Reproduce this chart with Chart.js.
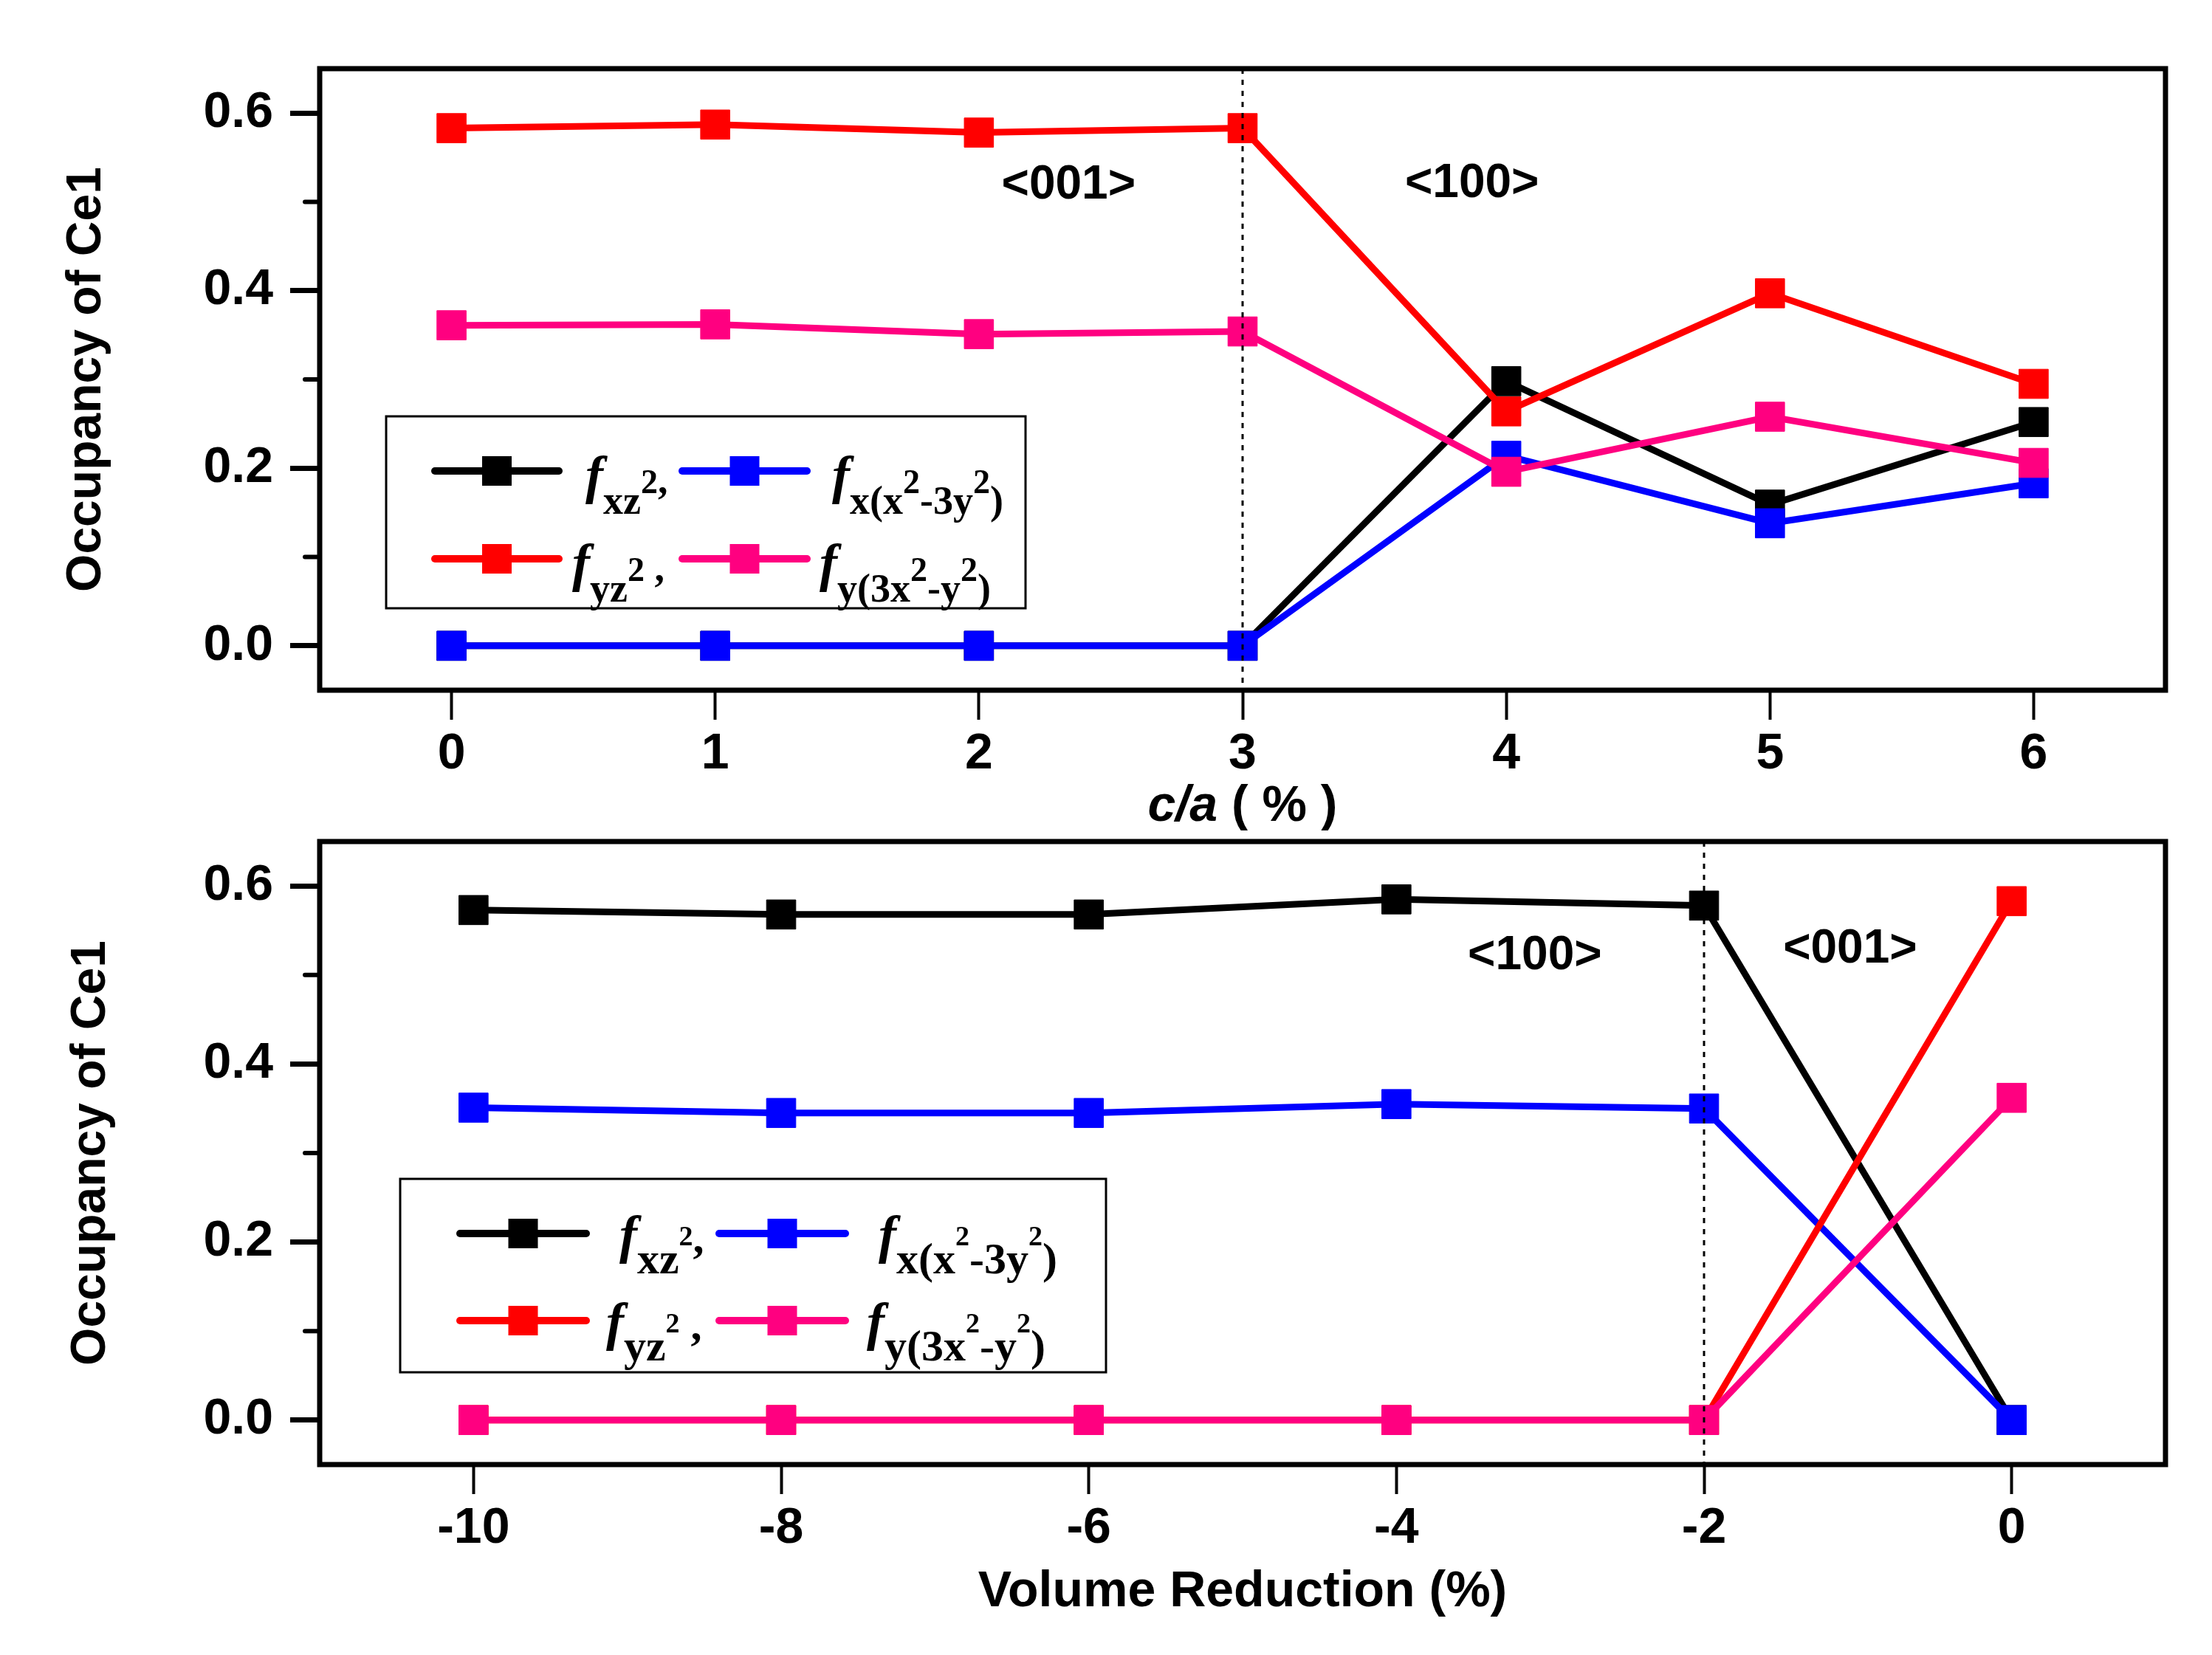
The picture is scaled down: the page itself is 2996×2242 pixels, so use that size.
<!DOCTYPE html>
<html>
<head>
<meta charset="utf-8">
<title>Occupancy of Ce1</title>
<script src="https://cdn.jsdelivr.net/npm/chart.js@4.4.1/dist/chart.umd.min.js"></script>
<style>
  html, body { margin: 0; padding: 0; background: #fff; }
  canvas { display: block; }
</style>
</head>
<body>
<canvas id="topChart" width="2996" height="1125"></canvas>
<canvas id="bottomChart" width="2996" height="1117"></canvas>
<script>
// Top panel: c/a (%)
const caValues = [0, 1, 2, 3, 4, 5, 6];
const caXz2 = [0, 0, 0, 0, 0.298, 0.159, 0.252];
const caX = [0, 0, 0, 0, 0.214, 0.138, 0.183];
const caYz2 = [0.583, 0.587, 0.578, 0.583, 0.264, 0.397, 0.295];
const caY = [0.361, 0.362, 0.351, 0.354, 0.196, 0.258, 0.206];

// Bottom panel: volume reduction (%)
const volValues = [-10, -8, -6, -4, -2, 0];
const volXz2 = [0.573, 0.568, 0.568, 0.585, 0.578, 0];
const volX = [0.351, 0.345, 0.345, 0.355, 0.350, 0];
const volYz2 = [0, 0, 0, 0, 0, 0.583];
const volY = [0, 0, 0, 0, 0, 0.362];

// Tick labels
const yTicks = [0, 0.2, 0.4, 0.6];
const yMinorTicks = [0.1, 0.3, 0.5];
const caTicks = [0, 1, 2, 3, 4, 5, 6];
const volTicks = [-10, -8, -6, -4, -2, 0];

const seriesNames = ['f xz2', 'f x(x2-3y2)', 'f yz2', 'f y(3x2-y2)'];
const seriesColors = ['#000000', '#0000ff', '#ff0000', '#ff0080'];

// rich legend text: [text, kind]
const legendTexts = [
    [['f', 'f'], ['xz', 'sub'], ['2', 'sup'], [',', 'punct']],
    [['f', 'f'], ['x(x', 'sub'], ['2', 'sup'], ['-3y', 'sub'], ['2', 'sup'], [')', 'sub']],
    [['f', 'f'], ['yz', 'sub'], ['2', 'sup'], [' ,', 'punct']],
    [['f', 'f'], ['y(3x', 'sub'], ['2', 'sup'], ['-y', 'sub'], ['2', 'sup'], [')', 'sub']]
];

const SANS = '"Liberation Sans", Arial, sans-serif';
const SERIF = '"Liberation Serif", "Times New Roman", serif';

// Frame, minor ticks, divider and direction labels
const framePlugin = {
    id: 'frame',
    afterDatasetsDraw(chart, args, opts) {
        const { ctx, chartArea: a, scales } = chart;
        ctx.save();
        // dotted divider
        const xd = scales.x.getPixelForValue(opts.divider);
        ctx.strokeStyle = '#000';
        ctx.lineWidth = 3;
        ctx.setLineDash([7, 8]);
        ctx.beginPath();
        ctx.moveTo(xd, a.top);
        ctx.lineTo(xd, a.bottom);
        ctx.stroke();
        ctx.setLineDash([]);
        // minor y ticks
        ctx.lineWidth = 6;
        ctx.lineCap = 'round';
        yMinorTicks.forEach(v => {
            const y = scales.y.getPixelForValue(v);
            ctx.beginPath();
            ctx.moveTo(a.left - 20, y);
            ctx.lineTo(a.left, y);
            ctx.stroke();
        });
        ctx.lineCap = 'butt';
        ctx.lineWidth = 7;
        ctx.strokeRect(a.left, a.top, a.right - a.left, a.bottom - a.top);
        // direction labels
        ctx.fillStyle = '#000';
        ctx.font = 'bold 64px ' + SANS;
        ctx.textAlign = 'center';
        ctx.textBaseline = 'middle';
        opts.notes.forEach(n => {
            ctx.fillText(n.text, scales.x.getPixelForValue(n.x), scales.y.getPixelForValue(n.y));
        });
        // custom x title (mixed italic)
        if (opts.caTitle) {
            ctx.textAlign = 'left';
            const cx = (a.left + a.right) / 2;
            const y = chart.height - 32;
            ctx.font = 'italic bold 68px ' + SANS;
            const w1 = ctx.measureText('c/a').width;
            ctx.font = 'bold 68px ' + SANS;
            const w2 = ctx.measureText(' ( % )').width;
            let x = cx - (w1 + w2) / 2;
            ctx.font = 'italic bold 68px ' + SANS;
            ctx.fillText('c/a', x, y);
            ctx.font = 'bold 68px ' + SANS;
            ctx.fillText(' ( % )', x + w1, y);
        }
        ctx.restore();
    }
};

function drawRich(ctx, parts, x, y, L) {
    parts.forEach(([txt, kind]) => {
        let base;
        if (kind === 'f') {
            ctx.font = `italic bold ${L.fSize}px ${SERIF}`;
            base = L.fBase;
        } else if (kind === 'sup') {
            ctx.font = `bold ${L.supSize}px ${SERIF}`;
            base = L.supBase;
        } else if (kind === 'sub') {
            ctx.font = `bold ${L.subSize}px ${SERIF}`;
            base = L.subBase;
        } else {
            ctx.font = `bold ${L.subSize}px ${SERIF}`;
            base = L.fBase;
        }
        ctx.fillText(txt, x, y + base);
        x += ctx.measureText(txt).width;
    });
}

// Legend box with sub/superscripts
const legendPlugin = {
    id: 'occLegend',
    afterDatasetsDraw(chart, args, L) {
        const { ctx, chartArea: a } = chart;
        const bx = a.left + L.left;
        const by = a.top + L.top;
        ctx.save();
        ctx.fillStyle = '#fff';
        ctx.fillRect(bx, by, L.width, L.height);
        ctx.strokeStyle = '#000';
        ctx.lineWidth = 3;
        ctx.strokeRect(bx, by, L.width, L.height);
        ctx.textAlign = 'left';
        ctx.textBaseline = 'alphabetic';
        seriesColors.forEach((color, i) => {
            const row = Math.floor(i / 2);
            const col = i % 2;
            const y = by + L.rows[row];
            const [x0, x1] = L.lines[col];
            ctx.strokeStyle = color;
            ctx.lineWidth = 10;
            ctx.lineCap = 'round';
            ctx.beginPath();
            ctx.moveTo(bx + x0, y);
            ctx.lineTo(bx + x1, y);
            ctx.stroke();
            ctx.fillStyle = color;
            const mx = bx + (x0 + x1) / 2;
            ctx.fillRect(mx - L.marker / 2, y - L.marker / 2, L.marker, L.marker);
            ctx.fillStyle = '#000';
            drawRich(ctx, legendTexts[i], bx + L.text[row][col], y, L);
        });
        ctx.restore();
    }
};

function makeDatasets(xs, series) {
    const order = [3, 2, 1, 0];
    return series.map((vals, i) => ({
        label: seriesNames[i],
        data: xs.map((x, j) => ({ x: x, y: vals[j] })),
        borderColor: seriesColors[i],
        backgroundColor: seriesColors[i],
        borderWidth: 9,
        pointStyle: 'rect',
        pointRadius: 28,
        pointBorderWidth: 1,
        tension: 0,
        order: order[i]
    }));
}

function makeChart(id, cfg) {
    const ctx = document.getElementById(id).getContext('2d');
    return new Chart(ctx, {
        type: 'line',
        data: { datasets: makeDatasets(cfg.xs, cfg.series) },
        options: {
            responsive: false,
            animation: false,
            events: [],
            layout: { autoPadding: false, padding: { top: cfg.padTop, right: 63, left: 0, bottom: 0 } },
            plugins: {
                legend: { display: false },
                tooltip: { enabled: false },
                frame: { divider: cfg.divider, notes: cfg.notes, caTitle: cfg.caTitle },
                occLegend: cfg.legend
            },
            scales: {
                x: {
                    type: 'linear',
                    min: cfg.xMin,
                    max: cfg.xMax,
                    afterBuildTicks: s => { s.ticks = cfg.xTicks.map(v => ({ value: v })); },
                    afterFit: s => { s.height = cfg.xHeight; s.paddingLeft = 0; s.paddingRight = 0; },
                    border: { display: false },
                    grid: { drawOnChartArea: false, drawTicks: true, tickLength: 40, tickWidth: 4, tickColor: '#000' },
                    ticks: {
                        autoSkip: false, maxRotation: 0, padding: 6, color: '#000',
                        font: { family: SANS, size: 68, weight: 'bold' },
                        callback: v => String(v)
                    },
                    title: cfg.xTitle
                },
                y: {
                    min: -0.05,
                    max: 0.65,
                    afterBuildTicks: s => { s.ticks = yTicks.map(v => ({ value: v })); },
                    afterFit: s => { s.width = 433; s.paddingTop = 0; s.paddingBottom = 0; },
                    border: { display: false },
                    grid: { drawOnChartArea: false, drawTicks: true, tickLength: 40, tickWidth: 7, tickColor: '#000' },
                    ticks: {
                        padding: 23, color: '#000',
                        font: { family: SANS, size: 68, weight: 'bold' },
                        callback: v => Number(v).toFixed(1)
                    },
                    title: {
                        display: true, text: 'Occupancy of Ce1', color: '#000',
                        font: { family: SANS, size: 66, weight: 'bold' },
                        padding: { top: cfg.yTitlePad, bottom: 0 }
                    }
                }
            }
        },
        plugins: [framePlugin, legendPlugin]
    });
}

document.addEventListener('DOMContentLoaded', () => {
    makeChart('topChart', {
        xs: caValues,
        series: [caXz2, caX, caYz2, caY],
        xMin: -0.5, xMax: 6.5, xTicks: caTicks,
        padTop: 93, xHeight: 190, yTitlePad: 78,
        divider: 3,
        caTitle: true,
        xTitle: { display: false },
        notes: [{ text: '<001>', x: 2.34, y: 0.518 }, { text: '<100>', x: 3.87, y: 0.52 }],
        legend: {
            left: 90, top: 471, width: 866, height: 260, rows: [74, 193],
            lines: [[66, 234], [401, 570]], text: [[270, 604], [252, 587]],
            fSize: 72, subSize: 54, supSize: 46, fBase: 30, subBase: 58, supBase: 30, marker: 40
        }
    });
    makeChart('bottomChart', {
        xs: volValues,
        series: [volXz2, volX, volYz2, volY],
        xMin: -11, xMax: 1, xTicks: volTicks,
        padTop: 15, xHeight: 258, yTitlePad: 84,
        divider: -2,
        caTitle: false,
        xTitle: {
            display: true, text: 'Volume Reduction (%)', color: '#000',
            font: { family: SANS, size: 68, weight: 'bold' },
            padding: { top: 0, bottom: 44 }
        },
        notes: [{ text: '<100>', x: -3.1, y: 0.521 }, { text: '<001>', x: -1.05, y: 0.529 }],
        legend: {
            left: 109, top: 457, width: 956, height: 262, rows: [74, 192],
            lines: [[81, 252], [432, 603]], text: [[297, 648], [279, 632]],
            fSize: 72, subSize: 60, supSize: 38, fBase: 26, subBase: 54, supBase: 16, marker: 40
        }
    });
});
</script>
</body>
</html>
